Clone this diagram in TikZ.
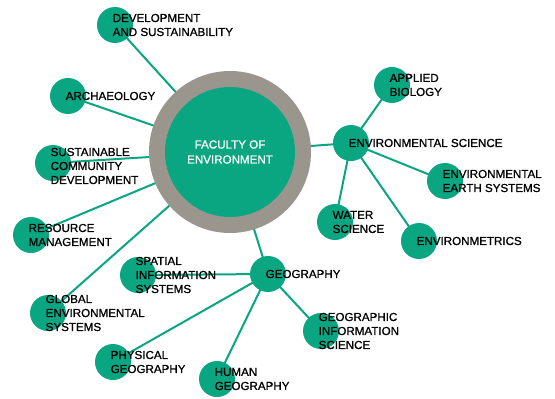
\documentclass[tikz,border=0pt]{standalone}
\usepackage{fontspec}
\setmainfont{Liberation Sans}[BoldFont={Liberation Sans},BoldFeatures={FakeBold=1.0}]
\definecolor{teal1}{RGB}{10,166,130}
\definecolor{ring}{RGB}{154,150,142}
\begin{document}
\begin{tikzpicture}[x=1pt,y=-1pt,
  dot/.style={circle,fill=teal1,minimum size=36pt,inner sep=0pt},
  lbl/.style={anchor=west,align=left,inner sep=0pt,font=\fontsize{11.6}{14}\selectfont\bfseries},
  link/.style={draw=teal1,line width=2pt}]
\useasboundingbox (0,0) rectangle (555,399);
% coordinates
\coordinate (fac) at (230,152);
\coordinate (dev) at (115,25);
\coordinate (arc) at (68,96);
\coordinate (sus) at (53,163);
\coordinate (res) at (31,235);
\coordinate (glo) at (48,313);
\coordinate (geo) at (268,274);
\coordinate (spa) at (138,275);
\coordinate (phy) at (113,362);
\coordinate (hum) at (217,379);
\coordinate (gis) at (321,331);
\coordinate (env) at (351,143);
\coordinate (app) at (392,85);
\coordinate (ear) at (445,181);
\coordinate (wat) at (335,222);
\coordinate (emt) at (419,241);
% links
\foreach \a in {dev,arc,sus,res,glo,geo,env} \draw[link] (fac) -- (\a);
\foreach \a in {spa,phy,hum,gis} \draw[link] (geo) -- (\a);
\foreach \a in {app,ear,wat,emt} \draw[link] (env) -- (\a);
% circles
\node[circle,fill=ring,minimum size=162pt,inner sep=0pt] (facring) at (fac) {};
\node[circle,fill=teal1,minimum size=130pt,inner sep=0pt,align=center,text=white,font=\fontsize{11.6}{15}\selectfont\bfseries] (facc) at (fac) {FACULTY OF\\ENVIRONMENT};
\foreach \a in {dev,arc,sus,res,glo,geo,spa,phy,hum,gis,env,app,ear,wat,emt} \node[dot] (\a c) at (\a) {};
% labels
\node[lbl] (devl) at ([xshift=-2.5pt]dev) {DEVELOPMENT\\AND SUSTAINABILITY};
\node[lbl] (arcl) at ([xshift=-2.5pt]arc) {ARCHAEOLOGY};
\node[lbl] (susl) at ([xshift=-2.5pt,yshift=-3pt]sus) {SUSTAINABLE\\COMMUNITY\\DEVELOPMENT};
\node[lbl] (resl) at ([xshift=-2.5pt]res) {RESOURCE\\MANAGEMENT};
\node[lbl] (glol) at ([xshift=-2.5pt]glo) {GLOBAL\\ENVIRONMENTAL\\SYSTEMS};
\node[lbl] (geol) at ([xshift=-2.5pt]geo) {GEOGRAPHY};
\node[lbl] (spal) at ([xshift=-2.5pt]spa) {SPATIAL\\INFORMATION\\SYSTEMS};
\node[lbl] (phyl) at ([xshift=-2.5pt]phy) {PHYSICAL\\GEOGRAPHY};
\node[lbl] (huml) at ([xshift=-2.5pt]hum) {HUMAN\\GEOGRAPHY};
\node[lbl] (gisl) at ([xshift=-2.5pt]gis) {GEOGRAPHIC\\INFORMATION\\SCIENCE};
\node[lbl] (envl) at ([xshift=-2.5pt]env) {ENVIRONMENTAL SCIENCE};
\node[lbl] (appl) at ([xshift=-2.5pt]app) {APPLIED\\BIOLOGY};
\node[lbl] (earl) at ([xshift=-2.5pt]ear) {ENVIRONMENTAL\\EARTH SYSTEMS};
\node[lbl] (watl) at ([xshift=-2.5pt]wat) {WATER\\SCIENCE};
\node[lbl] (emtl) at ([xshift=-2.5pt]emt) {ENVIRONMETRICS};
\end{tikzpicture}
\end{document}
